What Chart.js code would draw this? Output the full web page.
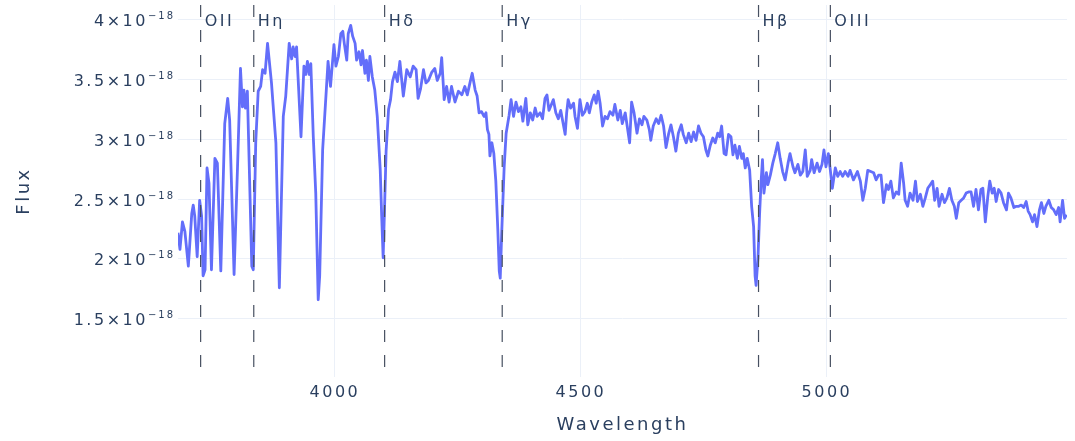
<!DOCTYPE html>
<html>
<head>
<meta charset="utf-8">
<script src="https://cdn.jsdelivr.net/npm/chart.js@4.4.0/dist/chart.umd.min.js"></script>
<style>
  html, body { margin: 0; padding: 0; background: #fff; }
  #spectrum-chart { display: block; }
</style>
</head>
<body>
<canvas id="spectrum-chart" width="1075" height="441"></canvas>
<script>
// Spectrum: wavelength (Angstrom) and flux in units of 1e-18
const wavelength = [
  3681, 3685, 3690, 3695, 3702, 3709, 3712, 3715, 3720, 3725, 3729, 3732, 3736, 3740, 3744, 3749,
  3756, 3761, 3768, 3776, 3782, 3786, 3795, 3802, 3808, 3812, 3815, 3818, 3822, 3831, 3834, 3839,
  3844, 3849, 3853, 3858, 3863, 3871, 3880, 3887, 3895, 3900, 3907, 3912, 3915, 3919, 3922, 3925,
  3931, 3937, 3941, 3944, 3948, 3951, 3956, 3961, 3966, 3969, 3975, 3982, 3986, 3991, 3998, 4002,
  4007, 4012, 4016, 4019, 4024, 4027, 4032, 4036, 4041, 4044, 4049, 4053, 4056, 4061, 4064, 4068,
  4071, 4076, 4081, 4086, 4092, 4095, 4098, 4101, 4104, 4109, 4113, 4117, 4122, 4127, 4132, 4139,
  4146, 4153, 4159, 4165, 4169, 4174, 4180, 4185, 4190, 4197, 4203, 4208, 4214, 4217, 4222, 4227,
  4232, 4237, 4244, 4251, 4258, 4264, 4269, 4275, 4279, 4285, 4289, 4293, 4298, 4303, 4307, 4310,
  4313, 4315, 4319, 4323, 4327, 4331, 4334, 4336, 4339, 4344, 4348, 4354, 4358, 4363, 4368, 4373,
  4378, 4382, 4388, 4392, 4397, 4402, 4407, 4411, 4417, 4422, 4427, 4431, 4435, 4444, 4449, 4454,
  4459, 4463, 4468, 4471, 4474, 4479, 4485, 4488, 4493, 4498, 4503, 4508, 4513, 4517, 4522, 4527,
  4531, 4535, 4539, 4544, 4549, 4554, 4559, 4565, 4569, 4575, 4580, 4584, 4590, 4594, 4599, 4603,
  4608, 4614, 4619, 4624, 4628, 4634, 4639, 4642, 4647, 4653, 4658, 4663, 4668, 4673, 4678, 4683,
  4688, 4693, 4698, 4704, 4708, 4714, 4719, 4724, 4729, 4734, 4739, 4744, 4749, 4754, 4758, 4763,
  4768, 4773, 4778, 4782, 4786, 4791, 4795, 4800, 4805, 4809, 4813, 4818, 4822, 4827, 4830, 4834,
  4838, 4843, 4847, 4851, 4854, 4856, 4860, 4863, 4866, 4869, 4872, 4877, 4880, 4885, 4890, 4895,
  4900, 4905, 4910, 4915, 4921, 4925, 4931, 4935, 4941, 4946, 4951, 4956, 4960, 4966, 4969, 4974,
  4980, 4985, 4990, 4994, 4998, 5003, 5007, 5011, 5017, 5022, 5027, 5032, 5037, 5043, 5047, 5054,
  5062, 5068, 5073, 5078, 5083, 5089, 5095, 5100, 5105, 5110, 5115, 5121, 5125, 5130, 5135, 5141,
  5146, 5151, 5156, 5159, 5164, 5169, 5175, 5180, 5184, 5190, 5195, 5200, 5205, 5210, 5215, 5219,
  5224, 5228, 5234, 5239, 5244, 5249, 5254, 5259, 5263, 5268, 5273, 5278, 5283, 5288, 5293, 5298,
  5303, 5308, 5313, 5317, 5322, 5327, 5331, 5336, 5340, 5344, 5349, 5354, 5359, 5365, 5369, 5374,
  5380, 5385, 5390, 5395, 5400, 5405, 5409, 5413, 5418, 5422, 5427, 5432, 5436, 5441, 5445, 5451,
  5456, 5461, 5466, 5471, 5474, 5479, 5483, 5487
];
const flux = [
  2.22, 2.08, 2.31, 2.23, 1.94, 2.38, 2.45, 2.36, 2.02, 2.49, 2.36, 1.86, 1.91, 2.76, 2.63, 1.91,
  2.84, 2.80, 1.90, 3.13, 3.34, 3.16, 1.87, 2.77, 3.59, 3.27, 3.41, 3.26, 3.40, 1.94, 1.91, 2.97,
  3.40, 3.44, 3.58, 3.55, 3.80, 3.47, 2.97, 1.76, 3.19, 3.36, 3.80, 3.67, 3.77, 3.69, 3.77, 3.52,
  3.02, 3.61, 3.54, 3.65, 3.54, 3.63, 3.02, 2.55, 1.66, 1.86, 2.91, 3.38, 3.65, 3.44, 3.79, 3.61,
  3.69, 3.88, 3.90, 3.80, 3.66, 3.88, 3.95, 3.86, 3.80, 3.66, 3.73, 3.62, 3.74, 3.55, 3.66, 3.49,
  3.69, 3.52, 3.41, 3.19, 2.75, 2.36, 2.01, 2.45, 2.90, 3.25, 3.33, 3.48, 3.56, 3.48, 3.65, 3.36,
  3.58, 3.52, 3.61, 3.58, 3.34, 3.42, 3.58, 3.47, 3.49, 3.56, 3.59, 3.49, 3.55, 3.68, 3.33, 3.44,
  3.31, 3.44, 3.31, 3.40, 3.37, 3.44, 3.37, 3.48, 3.55, 3.41, 3.36, 3.22, 3.23, 3.19, 3.22, 3.08,
  3.04, 2.86, 2.97, 2.88, 2.65, 2.25, 1.90, 1.84, 2.22, 2.77, 3.05, 3.20, 3.33, 3.19, 3.31, 3.23,
  3.27, 3.15, 3.34, 3.12, 3.22, 3.16, 3.26, 3.19, 3.22, 3.17, 3.34, 3.37, 3.24, 3.33, 3.22, 3.17,
  3.24, 3.15, 3.04, 3.22, 3.33, 3.26, 3.30, 3.19, 3.09, 3.33, 3.20, 3.23, 3.30, 3.22, 3.31, 3.37,
  3.30, 3.40, 3.30, 3.11, 3.19, 3.17, 3.23, 3.20, 3.29, 3.16, 3.24, 3.13, 3.22, 3.11, 2.97, 3.31,
  3.22, 3.05, 3.17, 3.12, 3.19, 3.16, 3.08, 2.99, 3.11, 3.17, 3.13, 3.20, 3.11, 2.93, 3.04, 3.12,
  3.02, 2.90, 3.05, 3.12, 3.04, 2.97, 3.05, 2.98, 3.06, 2.99, 3.11, 3.05, 3.02, 2.91, 2.86, 2.95,
  3.01, 2.97, 3.05, 3.02, 3.11, 2.88, 2.87, 3.04, 3.02, 2.87, 2.95, 2.84, 2.94, 2.84, 2.88, 2.76,
  2.84, 2.74, 2.44, 2.27, 1.86, 1.78, 2.02, 2.36, 2.63, 2.83, 2.55, 2.72, 2.62, 2.70, 2.80, 2.88,
  2.97, 2.84, 2.73, 2.66, 2.80, 2.88, 2.77, 2.72, 2.79, 2.70, 2.73, 2.91, 2.69, 2.74, 2.83, 2.72,
  2.80, 2.73, 2.79, 2.91, 2.77, 2.88, 2.74, 2.59, 2.76, 2.69, 2.73, 2.69, 2.73, 2.69, 2.74, 2.66,
  2.73, 2.65, 2.49, 2.59, 2.74, 2.73, 2.72, 2.66, 2.70, 2.70, 2.47, 2.62, 2.58, 2.65, 2.51, 2.56,
  2.54, 2.80, 2.63, 2.49, 2.44, 2.55, 2.49, 2.65, 2.48, 2.54, 2.44, 2.51, 2.59, 2.62, 2.65, 2.49,
  2.59, 2.44, 2.54, 2.47, 2.51, 2.59, 2.49, 2.44, 2.34, 2.47, 2.49, 2.51, 2.55, 2.56, 2.56, 2.44,
  2.58, 2.41, 2.58, 2.59, 2.31, 2.52, 2.65, 2.55, 2.59, 2.48, 2.58, 2.55, 2.47, 2.41, 2.55, 2.51,
  2.43, 2.44, 2.44, 2.45, 2.43, 2.48, 2.40, 2.37, 2.31, 2.37, 2.27, 2.41, 2.47, 2.38, 2.44, 2.49,
  2.43, 2.41, 2.37, 2.43, 2.31, 2.49, 2.34, 2.37
];

// Marked spectral lines
const lineNames = ['OII', 'Hη', 'Hδ', 'Hγ', 'Hβ', 'OIII'];
const lineWavelengths = [3727, 3835, 4101, 4340, 4861, 5007];

// Axes
const xTicks = [4000, 4500, 5000];
const yTicks = [1.5, 2, 2.5, 3, 3.5, 4];
const yTickExponent = '−18';
const xRange = [3681, 5488];
const yRange = [1.015, 4.12];

const FONT = "'DejaVu Sans', Verdana, sans-serif";
const TEXT_COLOR = '#2a3f5f';
const GRID_COLOR = '#ebf0f8';
const SPACING = '2.5px';

// Plotly-like text is rendered quite wide, so add letter spacing to everything drawn
const letterSpacingPlugin = {
  id: 'letterSpacing',
  beforeUpdate(chart) { chart.ctx.letterSpacing = SPACING; },
  beforeDraw(chart) { chart.ctx.letterSpacing = SPACING; }
};

// Y tick labels in "a×10^-18" form with a real raised exponent
const powerTickPlugin = {
  id: 'powerTicks',
  afterDraw(chart) {
    const { ctx, chartArea, scales } = chart;
    ctx.save();
    ctx.fillStyle = TEXT_COLOR;
    ctx.textAlign = 'left';
    ctx.textBaseline = 'alphabetic';
    yTicks.forEach(v => {
      const py = scales.y.getPixelForValue(v);
      const base = `${v}×10`;
      ctx.font = `16px ${FONT}`;
      ctx.letterSpacing = SPACING;
      const wb = ctx.measureText(base).width;
      ctx.font = `10px ${FONT}`;
      ctx.letterSpacing = '2px';
      const ws = ctx.measureText(yTickExponent).width;
      const x0 = chartArea.left - 3 - wb - ws;
      ctx.font = `16px ${FONT}`;
      ctx.letterSpacing = SPACING;
      ctx.fillText(base, x0, py + 6.5);
      ctx.font = `10px ${FONT}`;
      ctx.letterSpacing = '2px';
      ctx.fillText(yTickExponent, x0 + wb, py - 0.5);
    });
    ctx.restore();
  }
};

// Text labels next to the dashed lines
const lineLabelPlugin = {
  id: 'lineLabels',
  afterDatasetsDraw(chart) {
    const { ctx, chartArea, scales } = chart;
    ctx.save();
    ctx.letterSpacing = SPACING;
    ctx.font = `16px ${FONT}`;
    ctx.fillStyle = TEXT_COLOR;
    ctx.textAlign = 'left';
    ctx.textBaseline = 'alphabetic';
    lineNames.forEach((name, i) => {
      const px = scales.x.getPixelForValue(lineWavelengths[i]);
      ctx.fillText(name, px + 4, chartArea.top + 21);
    });
    ctx.restore();
  }
};

const spectrum = {
  label: 'Flux',
  data: wavelength.map((w, i) => ({ x: w, y: flux[i] })),
  borderColor: '#636efa',
  borderWidth: 2.8,
  pointRadius: 0,
  tension: 0,
  borderJoinStyle: 'round',
  order: 2
};

const lineDatasets = lineWavelengths.map((w, i) => ({
  label: lineNames[i],
  data: [{ x: w, y: yRange[1] }, { x: w, y: yRange[0] }],
  borderColor: '#475061',
  borderWidth: 1.2,
  borderDash: [12, 13],
  pointRadius: 0,
  order: 1
}));

const ctx = document.getElementById('spectrum-chart').getContext('2d');
new Chart(ctx, {
  type: 'line',
  data: { datasets: [spectrum, ...lineDatasets] },
  options: {
    responsive: false,
    animation: false,
    devicePixelRatio: 1,
    layout: { padding: { top: 5, right: 8, bottom: 0, left: 0 } },
    plugins: {
      legend: { display: false },
      tooltip: { enabled: false }
    },
    scales: {
      x: {
        type: 'linear',
        min: xRange[0],
        max: xRange[1],
        afterBuildTicks: axis => { axis.ticks = xTicks.map(v => ({ value: v })); },
        afterFit: axis => { axis.height = 64; },
        grid: { color: GRID_COLOR, drawTicks: false },
        border: { display: false },
        ticks: {
          color: TEXT_COLOR,
          font: { family: FONT, size: 16 },
          padding: 6,
          maxRotation: 0,
          autoSkip: false,
          callback: v => String(v)
        },
        title: {
          display: true,
          text: 'Wavelength',
          color: TEXT_COLOR,
          font: { family: FONT, size: 18 },
          padding: { top: 0, bottom: 5 }
        }
      },
      y: {
        type: 'linear',
        min: yRange[0],
        max: yRange[1],
        afterBuildTicks: axis => { axis.ticks = yTicks.map(v => ({ value: v })); },
        afterFit: axis => { axis.width = 178; },
        grid: { color: GRID_COLOR, drawTicks: false },
        border: { display: false },
        ticks: { display: false },
        title: {
          display: true,
          text: 'Flux',
          color: TEXT_COLOR,
          font: { family: FONT, size: 18 },
          padding: { top: 14, bottom: 0 }
        }
      }
    }
  },
  plugins: [letterSpacingPlugin, powerTickPlugin, lineLabelPlugin]
});
</script>
</body>
</html>
